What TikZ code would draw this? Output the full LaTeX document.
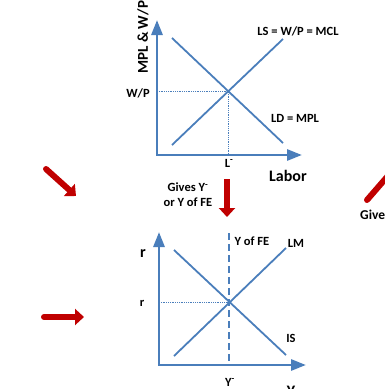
\documentclass[tikz,border=0pt]{standalone}
\usepackage{fontspec}
\setmainfont{Carlito}
\usetikzlibrary{arrows.meta, positioning, calc}
\definecolor{axisblue}{RGB}{74,126,187}
\definecolor{arrowred}{RGB}{192,0,0}

\begin{document}
\begin{tikzpicture}[x=1pt, y=-1pt, every node/.style={font=\fontsize{12.5}{15}\selectfont\bfseries, inner sep=0pt}]
		
		\tikzstyle{axis}=[draw=axisblue, line width=2.8pt, {Triangle[length=15pt, width=11pt]}-{Triangle[length=15pt, width=11pt]}]
		\tikzstyle{curve}=[draw=axisblue, line width=1.8pt]
		\tikzstyle{guide}=[draw=axisblue, line width=0.8pt, densely dotted]
		\tikzstyle{fe}=[draw=axisblue, line width=1.8pt, dash pattern=on 7pt off 4pt]
		\tikzstyle{bigarrow}=[draw=arrowred, line width=6pt, line cap=round, -{Triangle[length=9pt, width=16pt]}]
		\tikzstyle{biglabel}=[font=\fontsize{16}{19}\selectfont\bfseries]
		
		\useasboundingbox (0,0) rectangle (385,389);
		
		%% labour market
		\coordinate (o1) at (157,155);
		\coordinate (ytop1) at (157,20);
		\coordinate (xend1) at (302,155);
		\coordinate (ls1) at (172,145);
		\coordinate (ls2) at (283,39);
		\coordinate (ld1) at (172,38);
		\coordinate (ld2) at (283,143);
		\coordinate (eq1) at (intersection of ls1--ls2 and ld1--ld2);
		
		\draw [guide] (o1 |- eq1) -- (eq1) -- (o1 -| eq1);
		\draw [curve] (ls1) -- (ls2);
		\draw [curve] (ld1) -- (ld2);
		\draw [axis] (ytop1) -- (o1) -- (xend1);
		
		\node (mpl) at (143,74) [biglabel, font=\fontsize{15}{18}\selectfont\bfseries, rotate=90, anchor=west] {MPL \& W/P};
		\node (wp) at (138,93) {W/P};
		\node (lbar) at (229,163) {L\textsuperscript{-}};
		\node (labor) at (288,176) [biglabel] {Labor};
		\node (ls) at (298,31) {LS = W/P = MCL};
		\node (ld) at (295,118) {LD = MPL};
		
		%% goods market
		\coordinate (o2) at (159,365);
		\coordinate (ytop2) at (159,232);
		\coordinate (xend2) at (306,365);
		\coordinate (lm1) at (174,356);
		\coordinate (lm2) at (286,248);
		\coordinate (is1) at (174,250);
		\coordinate (is2) at (286,355);
		\coordinate (eq2) at (intersection of lm1--lm2 and is1--is2);
		\coordinate (fetop) at (229,233);
		
		\draw [guide] (o2 |- eq2) -- (eq2);
		\draw [fe] (fetop) -- (o2 -| fetop);
		\draw [curve] (lm1) -- (lm2);
		\draw [curve] (is1) -- (is2);
		\draw [axis] (ytop2) -- (o2) -- (xend2);
		
		\node (raxis) at (143,254) [biglabel] {r};
		\node (r) at (142,303) {r};
		\node (yfe) at (252,241) {Y of FE};
		\node (lm) at (296,243) {LM};
		\node (is) at (291,338) {IS};
		\node (ybar) at (230,382) {Y\textsuperscript{-}};
		\node (yaxis) at (291,391) [biglabel] {Y};
		
		%% red arrows
		\node (gives) at (188,195) [align=center] {Gives Y\textsuperscript{-}\\or Y of FE};
		\coordinate (down1) at (227,179);
		\coordinate (down2) at (227,217);
		\draw [bigarrow, line cap=butt] (down1) -- (down2);
		
		\coordinate (diag1) at (46,169);
		\coordinate (diag2) at (76,196);
		\draw [bigarrow] (diag1) -- (diag2);
		
		\coordinate (hor1) at (44,317);
		\coordinate (hor2) at (84,317);
		\draw [bigarrow] (hor1) -- (hor2);
		
		\coordinate (up1) at (367,200);
		\coordinate (up2) at (400,162);
		\draw [bigarrow] (up1) -- (up2);
		\node (gives2) at (360,215) [anchor=west, font=\fontsize{13.5}{16}\selectfont\bfseries] {Gives};
		
\end{tikzpicture}
\end{document}
